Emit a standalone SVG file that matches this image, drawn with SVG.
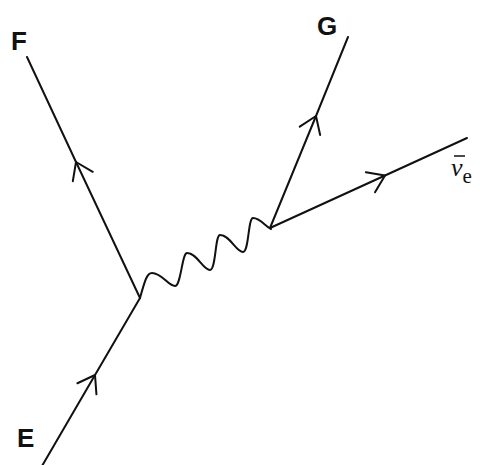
<svg xmlns="http://www.w3.org/2000/svg" width="480" height="465" viewBox="0 0 480 465">
<style>
.ln{fill:none;stroke:#111;stroke-width:2;stroke-linecap:round;stroke-linejoin:round}
.lbl{font-family:"Liberation Sans",Arial,sans-serif;font-weight:bold;font-size:26px;fill:#111}
.nu{font-family:"Liberation Serif","Times New Roman",serif;font-size:26px;fill:#111}
</style>
<defs>
<marker id="chev" markerUnits="userSpaceOnUse" markerWidth="40" markerHeight="40" refX="0" refY="0" orient="auto" viewBox="-20 -20 40 40" overflow="visible">
<path d="M-16,-11 L0,0 L-16,11" fill="none" stroke="#111" stroke-width="2" stroke-linecap="round" stroke-linejoin="round"/>
</marker>
</defs>
<rect width="480" height="465" fill="#fff"/>
<g id="connectors">
<polyline class="ln" points="42,466 95,375 140,298" marker-mid="url(#chev)"/>
<polyline class="ln" points="140,298 76,162 27,57" marker-mid="url(#chev)"/>
<polyline class="ln" points="270,228 316,116 348,37" marker-mid="url(#chev)"/>
<polyline class="ln" points="270,228 385,175.5 467,138" marker-mid="url(#chev)"/>
<path class="ln" d="M140,298 C145,280 147,273 152,273 C162,273 168,286 175,286 C181,286 182,253 187,253 C197,253 203,270 210,270 C216,270 215,235 220,235 C230,235 236,252 243,252 C249,252 248,218 253,218 C260,218 265,226 271,229"/>
</g>
<g id="F"><text class="lbl" x="11" y="50">F</text></g>
<g id="G"><text class="lbl" x="317" y="35">G</text></g>
<g id="E"><text class="lbl" x="17" y="447">E</text></g>
<g id="nu">
<line x1="454" y1="156" x2="465" y2="156" stroke="#111" stroke-width="1.5"/>
<text class="nu" x="451" y="176"><tspan font-style="italic">ν</tspan><tspan font-size="21" dy="7">e</tspan></text>
</g>
</svg>
